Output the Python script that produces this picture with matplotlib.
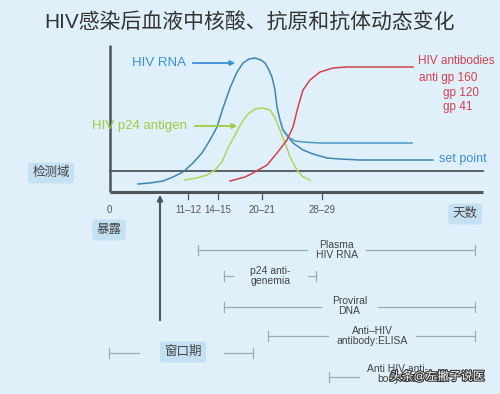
import matplotlib
matplotlib.use("Agg")
import matplotlib.pyplot as plt
import matplotlib.patheffects as pe

plt.rcParams['font.family'] = ['Liberation Sans', 'Noto Sans CJK SC', 'DejaVu Sans']

# ---------------- data (diagram units) ----------------
title = "HIV感染后血液中核酸、抗原和抗体动态变化"

rna_x = [138, 150, 163, 173, 183, 193, 202, 210, 217, 223, 230, 237, 243, 249, 255, 261, 265,
         268, 272, 275, 277, 280, 283, 287, 293, 303, 313, 327, 340, 360, 433]
rna_y = [184, 183, 181, 177, 172, 163, 153, 140, 127, 108, 88, 72, 63, 59, 58, 60, 63,
         68, 77, 90, 107, 120, 130, 135, 143, 150, 154, 158, 159, 160, 160]
rna_up_x = [280, 283, 288, 295, 303, 320, 412]
rna_up_y = [120, 130, 137, 141, 142, 143, 143]

p24_x = [185, 197, 207, 215, 222, 228, 235, 242, 248, 255, 263, 270, 275, 280, 285, 290, 297, 303, 310]
p24_y = [180, 178, 175, 170, 162, 148, 135, 122, 114, 109, 108, 110, 118, 130, 143, 157, 170, 177, 180]

ab_x = [230, 245, 253, 267, 277, 287, 293, 298, 303, 310, 320, 333, 347, 413]
ab_y = [181, 177, 173, 165, 153, 140, 127, 107, 90, 80, 72, 68, 67, 67]

tick_pos = [109, 188, 218, 262, 322]
tick_labels = ["0", "11–12", "14–15", "20–21", "28–29"]

bar_labels = ["Plasma\nHIV RNA", "p24 anti-\ngenemia", "Proviral\nDNA",
              "Anti–HIV\nantibody:ELISA"]
bar_start = [198, 224, 224, 268]
bar_gap_l = [307, 233, 321, 328]
bar_gap_r = [366, 308, 378, 416]
bar_end = [475, 316, 475, 475]
bar_row = [250, 276, 307, 336]

window_start, window_gap_l, window_gap_r, window_end = 109, 139, 224, 253
wb_start, wb_gap_l = 329, 359

# ---------------- styles ----------------
bg = "#dff0fb"
box_fc = "#c4e0f3"
dark = "#505559"
gray = "#9eabb6"
blue_c = "#3d86b3"
blue_t = "#3a8fd4"
green = "#b3d45a"
green_t = "#9fcb3f"
red = "#d3404c"

fig = plt.figure(figsize=(5, 3.94), dpi=100, facecolor=bg)
ax = fig.add_axes([0, 0, 1, 1])
ax.set_facecolor(bg)
ax.set_xlim(0, 500)
ax.set_ylim(394, 0)
ax.axis("off")

ax.text(250, 23, title, ha="center", va="center", fontsize=15, color="#333333")

# axes
ax.plot([110, 110], [45, 192], color=dark, lw=1.8, solid_capstyle="butt")
ax.plot([110, 483], [192, 192], color=dark, lw=2.2, solid_capstyle="butt")
ax.plot([110, 483], [171, 171], color=dark, lw=1.3)
for x in tick_pos[1:]:
    ax.plot([x, x], [192, 199], color=dark, lw=0.9)
for x, t in zip(tick_pos, tick_labels):
    ax.text(x, 210, t, ha="center", va="center", fontsize=7, color="#555555")

# curves
ax.plot(rna_x, rna_y, color=blue_c, lw=1.1, solid_joinstyle="round")
ax.plot(rna_up_x, rna_up_y, color="#4a98c4", lw=1.1, solid_joinstyle="round")
ax.plot(p24_x, p24_y, color=green, lw=1.1, solid_joinstyle="round")
ax.plot(ab_x, ab_y, color=red, lw=1.1, solid_joinstyle="round")

# curve labels
ax.text(132, 63, "HIV RNA", ha="left", va="center", fontsize=9.5, color=blue_t)
ax.annotate("", xy=(238, 63), xytext=(190, 63),
            arrowprops=dict(arrowstyle="-|>", color=blue_t, lw=1.3, mutation_scale=7))
ax.text(92, 126, "HIV p24 antigen", ha="left", va="center", fontsize=9.5, color=green_t)
ax.annotate("", xy=(240, 126), xytext=(192, 126),
            arrowprops=dict(arrowstyle="-|>", color=green_t, lw=1.3, mutation_scale=7))
ax.text(439, 159, "set point", ha="left", va="center", fontsize=9, color=blue_t)
ax.text(418, 61, "HIV antibodies", ha="left", va="center", fontsize=8.5, color=red)
ax.text(419, 78, "anti gp 160", ha="left", va="center", fontsize=8.5, color=red)
ax.text(443, 93, "gp 120", ha="left", va="center", fontsize=8.5, color=red)
ax.text(443, 107, "gp 41", ha="left", va="center", fontsize=8.5, color=red)

# boxes
def box(x, y, s):
    ax.text(x, y, s, ha="center", va="center", fontsize=9, color="#444444",
            bbox=dict(boxstyle="round,pad=0.35,rounding_size=0.3", fc=box_fc, ec="none"))

box(51, 173, "检测域")
box(109, 230, "暴露")
box(465, 214, "天数")
box(183, 352, "窗口期")

# exposure arrow
ax.annotate("", xy=(160, 192), xytext=(160, 323),
            arrowprops=dict(arrowstyle="-|>", color=dark, lw=1.5, mutation_scale=8))

# range bars
def bar(y, s, gl, gr, e, lab):
    ax.plot([s, gl], [y, y], color=gray, lw=0.9)
    ax.plot([gr, e], [y, y], color=gray, lw=0.9)
    ax.plot([s, s], [y - 5, y + 5], color=gray, lw=0.9)
    ax.plot([e, e], [y - 5, y + 5], color=gray, lw=0.9)
    if lab:
        ax.text((gl + gr) / 2, y - 0.5, lab, ha="center", va="center", fontsize=7.5,
                color="#444444", linespacing=1.0)

for lab, s, gl, gr, e, y in zip(bar_labels, bar_start, bar_gap_l, bar_gap_r, bar_end, bar_row):
    bar(y, s, gl, gr, e, lab)

bar(353, window_start, window_gap_l, window_gap_r, window_end, None)

ax.plot([wb_start, wb_gap_l], [377, 377], color=gray, lw=0.9)
ax.plot([wb_start, wb_start], [372, 382], color=gray, lw=0.9)
ax.text(398, 374, "Anti HIV anti-\nbody:WB", ha="center", va="center", fontsize=7.5,
        color="#444444", linespacing=1.0)

# watermark
ax.text(437, 377, "头条@左撇子说医", ha="center", va="center", fontsize=8.5, color="white",
        path_effects=[pe.withStroke(linewidth=1.6, foreground="#333333")])

fig.savefig("out.png", dpi=100, facecolor=bg)
